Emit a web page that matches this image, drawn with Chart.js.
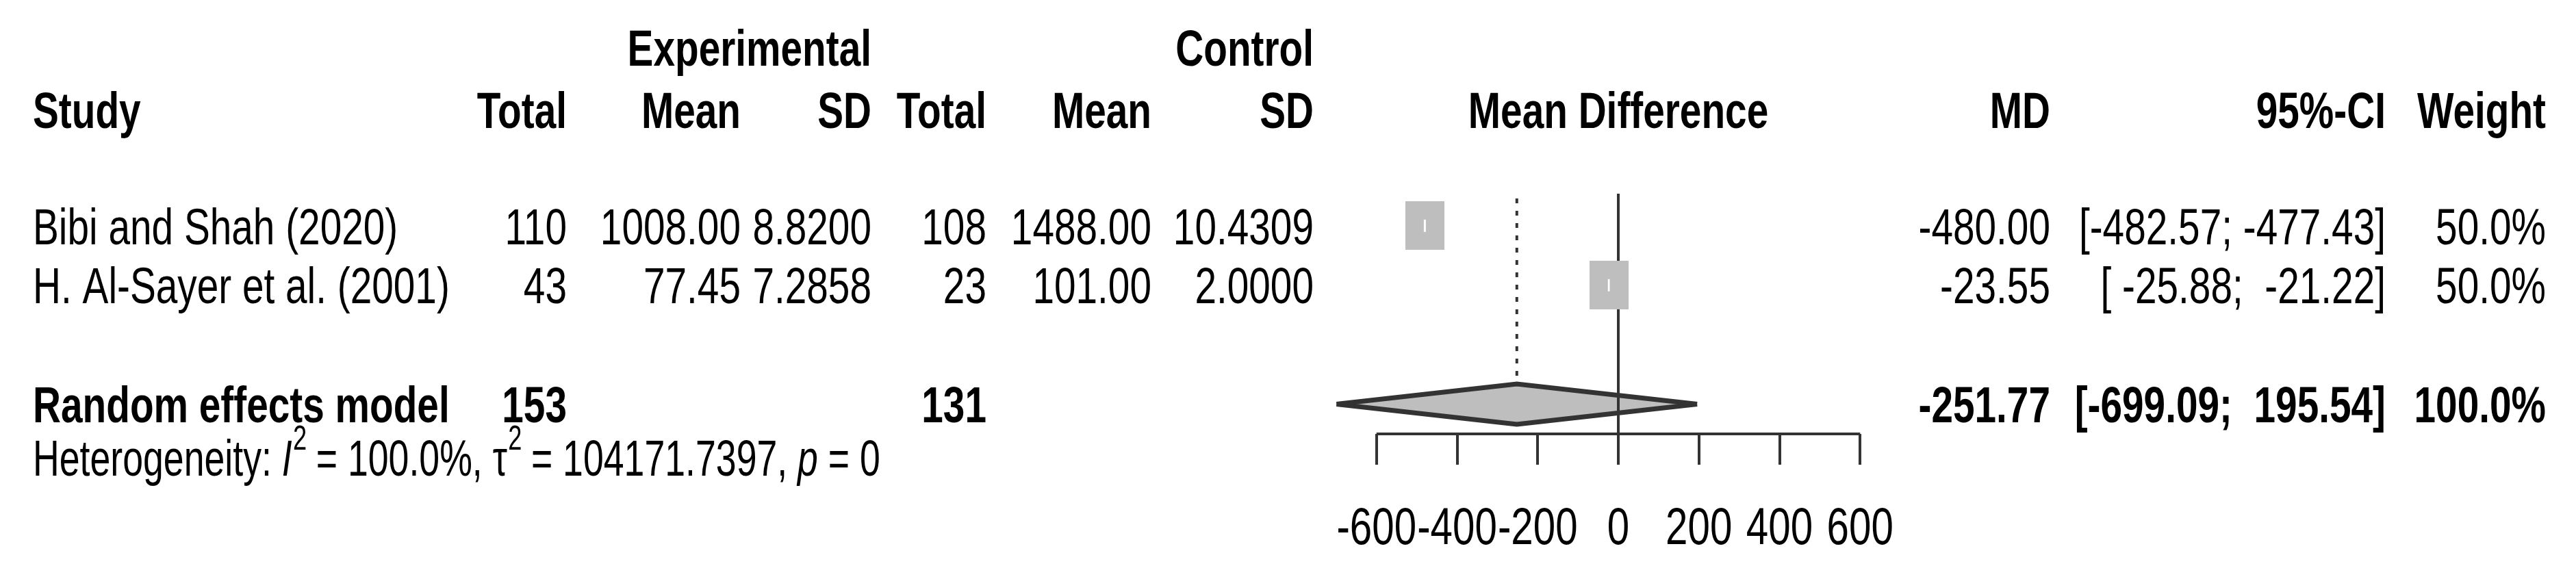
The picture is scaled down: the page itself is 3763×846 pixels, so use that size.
<!DOCTYPE html>
<html>
<head>
<meta charset="utf-8">
<title>Forest plot</title>
<script src="https://cdn.jsdelivr.net/npm/chart.js"></script>
<style>
  html, body { margin: 0; padding: 0; background: #fff; }
  canvas { display: block; }
</style>
</head>
<body>
<canvas id="forest" width="3763" height="846"></canvas>
<script>
// study rows
const studies   = ['Bibi and Shah (2020)', 'H. Al-Sayer et al. (2001)'];
const expTotal  = [110, 43];
const expMean   = [1008.00, 77.45];
const expSD     = [8.8200, 7.2858];
const ctrlTotal = [108, 23];
const ctrlMean  = [1488.00, 101.00];
const ctrlSD    = [10.4309, 2.0000];
const md        = [-480.00, -23.55];
const ciLow     = [-482.57, -25.88];
const ciHigh    = [-477.43, -21.22];
const weight    = [50.0, 50.0];

// pooled estimate
const pooledLabel  = 'Random effects model';
const pooledTotals = [153, 131];
const pooledMD     = -251.77;
const pooledLow    = -699.09;
const pooledHigh   = 195.54;
const pooledWeight = 100.0;

// heterogeneity
const hetI2   = 100.0;
const hetTau2 = 104171.7397;
const hetP    = 0;

const xTicks = [-600, -400, -200, 0, 200, 400, 600];

// layout (rows in y units, columns in px)
const studyRows = [1, 2];
const pooledRow = 4;
const diamondHalf = 0.34;
const FS = 74;
const SX = 0.767;
const FONT = '"Liberation Sans", Arial, sans-serif';
const LINE = '#333';
const col = { study: 48, expTotal: 828, expMean: 1082, expSD: 1273, ctrlTotal: 1441,
              ctrlMean: 1682, ctrlSD: 1919, md: 2995, ci: 3485, weight: 3719 };

const fmtCI = (lo, hi) => '[' + lo.toFixed(2).padStart(7) + '; ' + hi.toFixed(2).padStart(7) + ']';

function put(ctx, str, px, py, align, bold, size) {
  const fs = size || FS;
  ctx.save();
  ctx.translate(px, py + fs * 0.36);
  ctx.scale(SX, 1);
  ctx.font = (bold ? 'bold ' : '') + fs + 'px ' + FONT;
  ctx.textAlign = align;
  ctx.textBaseline = 'alphabetic';
  ctx.fillStyle = '#000';
  ctx.fillText(str, 0, 0);
  ctx.restore();
}

const tablePlugin = {
  id: 'forestTable',
  afterDraw(chart) {
    const ctx = chart.ctx;
    const x = chart.scales.x, y = chart.scales.y;

    // headers
    const h1 = y.getPixelForValue(-2), h2 = y.getPixelForValue(-0.95);
    put(ctx, 'Experimental', col.expSD, h1, 'right', true);
    put(ctx, 'Control', col.ctrlSD, h1, 'right', true);
    put(ctx, 'Study', col.study, h2, 'left', true);
    put(ctx, 'Total', col.expTotal, h2, 'right', true);
    put(ctx, 'Mean', col.expMean, h2, 'right', true);
    put(ctx, 'SD', col.expSD, h2, 'right', true);
    put(ctx, 'Total', col.ctrlTotal, h2, 'right', true);
    put(ctx, 'Mean', col.ctrlMean, h2, 'right', true);
    put(ctx, 'SD', col.ctrlSD, h2, 'right', true);
    put(ctx, 'Mean Difference', x.getPixelForValue(0), h2, 'center', true);
    put(ctx, 'MD', col.md, h2, 'right', true);
    put(ctx, '95%-CI', col.ci, h2, 'right', true);
    put(ctx, 'Weight', col.weight, h2, 'right', true);

    // studies
    studies.forEach((s, i) => {
      const py = y.getPixelForValue(studyRows[i]);
      put(ctx, s, col.study, py, 'left');
      put(ctx, String(expTotal[i]), col.expTotal, py, 'right');
      put(ctx, expMean[i].toFixed(2), col.expMean, py, 'right');
      put(ctx, expSD[i].toFixed(4), col.expSD, py, 'right');
      put(ctx, String(ctrlTotal[i]), col.ctrlTotal, py, 'right');
      put(ctx, ctrlMean[i].toFixed(2), col.ctrlMean, py, 'right');
      put(ctx, ctrlSD[i].toFixed(4), col.ctrlSD, py, 'right');
      put(ctx, md[i].toFixed(2), col.md, py, 'right');
      put(ctx, fmtCI(ciLow[i], ciHigh[i]), col.ci, py, 'right');
      put(ctx, weight[i].toFixed(1) + '%', col.weight, py, 'right');
    });

    // pooled
    const pp = y.getPixelForValue(pooledRow);
    put(ctx, pooledLabel, col.study, pp, 'left', true);
    put(ctx, String(pooledTotals[0]), col.expTotal, pp, 'right', true);
    put(ctx, String(pooledTotals[1]), col.ctrlTotal, pp, 'right', true);
    put(ctx, pooledMD.toFixed(2), col.md, pp, 'right', true);
    put(ctx, fmtCI(pooledLow, pooledHigh), col.ci, pp, 'right', true);
    put(ctx, pooledWeight.toFixed(1) + '%', col.weight, pp, 'right', true);

    // heterogeneity line
    const hy = y.getPixelForValue(4.9) + FS * 0.36;
    const parts = [
      ['Heterogeneity: ', ''], ['I', 'italic '], ['2', 'sup'],
      [' = ' + hetI2.toFixed(1) + '%, ', ''], ['\u03c4', ''], ['2', 'sup'],
      [' = ' + hetTau2.toFixed(4) + ', ', ''], ['p', 'italic '], [' = ' + hetP, '']
    ];
    ctx.save();
    ctx.translate(col.study, hy);
    ctx.scale(SX * 0.945, 1);
    ctx.fillStyle = '#000';
    ctx.textBaseline = 'alphabetic';
    ctx.textAlign = 'left';
    let cx = 0;
    parts.forEach(([t, st]) => {
      if (st === 'sup') {
        ctx.font = '50px ' + FONT;
        ctx.fillText(t, cx + 2, -38);
      } else {
        ctx.font = st + FS + 'px ' + FONT;
        ctx.fillText(t, cx, 0);
      }
      cx += ctx.measureText(t).width;
    });
    ctx.restore();

    // tick labels
    x.ticks.forEach(t => {
      put(ctx, String(t.value), x.getPixelForValue(t.value), 768, 'center', false, 76);
    });
  }
};

const squareImg = document.createElement('canvas');
squareImg.width = 57;
squareImg.height = 71;
const sctx = squareImg.getContext('2d');
sctx.fillStyle = '#bebebe';
sctx.fillRect(0, 0, 57, 71);

const lineSet = (data, extra) => Object.assign({
  data: data, showLine: true, pointRadius: 0, borderColor: LINE, borderWidth: 4,
  fill: false, clip: false
}, extra);

const ciSets = studies.map((s, i) => lineSet(
  [{ x: ciLow[i], y: studyRows[i] }, { x: ciHigh[i], y: studyRows[i] }],
  { borderColor: '#fff', borderWidth: 18, borderCapStyle: 'butt', order: 0 }
));

new Chart(document.getElementById('forest'), {
  type: 'scatter',
  data: {
    datasets: [
      ...ciSets,
      {
        data: md.map((v, i) => ({ x: v, y: studyRows[i] })),
        pointStyle: squareImg, pointRadius: 30, order: 1
      },
      lineSet([{ x: 0, y: 0.46 }, { x: 0, y: 4.5 }], { order: 2 }),
      lineSet([{ x: pooledLow, y: pooledRow }, { x: pooledMD, y: pooledRow - diamondHalf }, { x: pooledHigh, y: pooledRow }],
              { fill: '+1', backgroundColor: '#bebebe', borderWidth: 7, order: 3 }),
      lineSet([{ x: pooledLow, y: pooledRow }, { x: pooledMD, y: pooledRow + diamondHalf }, { x: pooledHigh, y: pooledRow }],
              { borderWidth: 7, order: 4 }),
      lineSet([{ x: pooledMD, y: 0.54 }, { x: pooledMD, y: pooledRow - diamondHalf }],
              { borderDash: [7, 11], order: 5 }),
      lineSet([{ x: xTicks[0], y: 4.5 }, { x: xTicks[xTicks.length - 1], y: 4.5 }], { order: 6 })
    ]
  },
  options: {
    responsive: false,
    animation: false,
    layout: { padding: { left: 1893, right: 928, top: 243, bottom: 0 } },
    plugins: {
      legend: { display: false },
      tooltip: { enabled: false },
      filler: { drawTime: 'beforeDatasetsDraw' }
    },
    scales: {
      x: {
        type: 'linear', min: -800, max: 800,
        afterBuildTicks: s => { s.ticks = xTicks.map(v => ({ value: v })); },
        afterFit: s => { s.height = 212; },
        grid: { drawOnChartArea: false, drawTicks: true, tickLength: 45, color: LINE, lineWidth: 4 },
        border: { display: false },
        ticks: { display: false }
      },
      y: { type: 'linear', min: 0, max: 4.5, reverse: true, display: false }
    }
  },
  plugins: [tablePlugin]
});
</script>
</body>
</html>
